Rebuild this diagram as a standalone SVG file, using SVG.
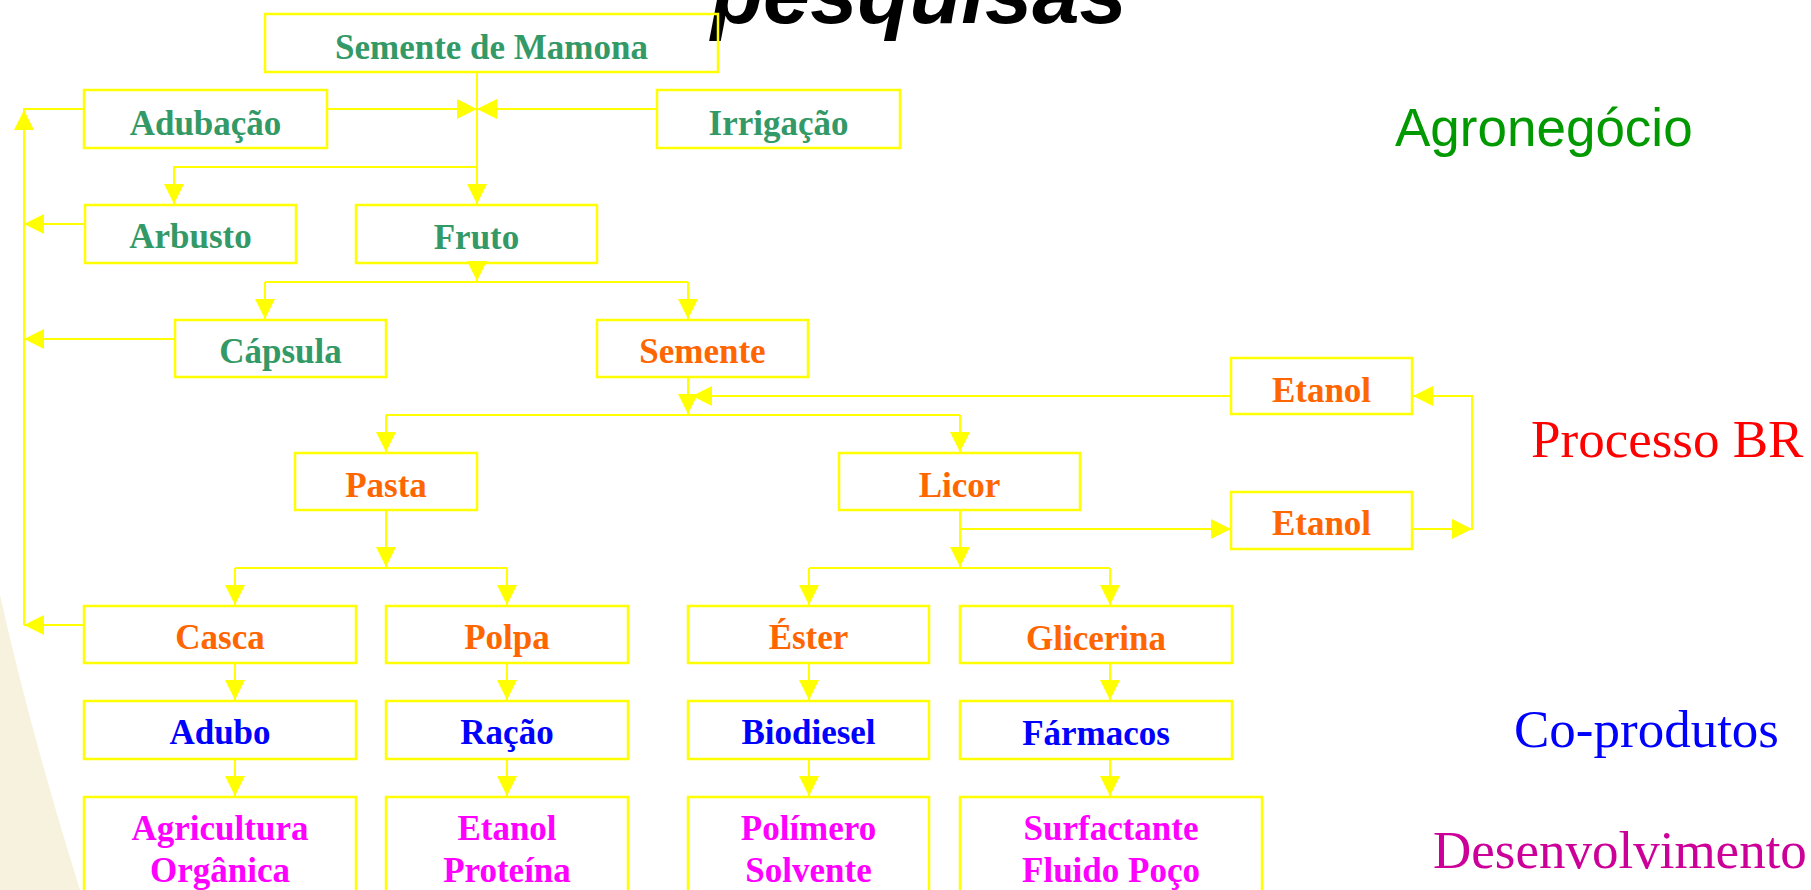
<svg xmlns="http://www.w3.org/2000/svg" xmlns:xlink="http://www.w3.org/1999/xlink" width="1811" height="890" viewBox="0 0 1811 890">
<style>
.bx{fill:none;stroke:#FFFF00;stroke-width:2.5}
.cn{fill:none;stroke:#FFFF00;stroke-width:2}
.ah{fill:#FFFF00}
.t{font-family:"Liberation Serif","Times New Roman",serif;font-weight:bold;font-size:35px;text-anchor:middle}
.g{fill:#339966}.o{fill:#FF6600}.b{fill:#0000FF}.m{fill:#FF00FF}
.side{font-family:"Liberation Serif","Times New Roman",serif;font-size:53px}
</style>
<defs>
<path id="ad" d="M-10,-20 L10,-20 L0,0 Z"/>
<path id="au" d="M-10,20 L10,20 L0,0 Z"/>
<path id="al" d="M20,-10 L20,10 L0,0 Z"/>
<path id="ar" d="M-20,-10 L-20,10 L0,0 Z"/>
</defs>
<rect width="1811" height="890" fill="#FFFFFF"/>
<path d="M0,595 Q30,730 80,890 L0,890 Z" fill="#F6F2DE"/>
<text x="711" y="23" font-family="Liberation Sans,Arial,sans-serif" font-weight="bold" font-style="italic" font-size="85" fill="#000000">pesquisas</text>

<g id="connectors">
<path class="cn" d="M477,72 V204 M327,109 H477 M657,109 H477 M477,167 H174 V204"/>
<path class="cn" d="M84,109 H24 V625 M85,224 H24 M175,339 H24 M84,625 H24"/>
<path class="cn" d="M477,263 V282 M265,282 H688 M265,282 V319 M688,282 V319"/>
<path class="cn" d="M688,377 V415 M386,415 H960 M386,415 V452 M960,415 V452 M1231,396 H692"/>
<path class="cn" d="M1412,529 H1472 V396 H1413"/>
<path class="cn" d="M960,510 V568 M960,529 H1231 M809,568 H1110 M809,568 V605 M1110,568 V605"/>
<path class="cn" d="M386,510 V568 M235,568 H507 M235,568 V605 M507,568 V605"/>
<path class="cn" d="M235,663 V700 M507,663 V700 M809,663 V700 M1110,663 V700 M235,759 V796 M507,759 V796 M809,759 V796 M1110,759 V796"/>
<g class="ah">
<use xlink:href="#ad" x="477" y="204"/>
<use xlink:href="#ar" x="477" y="109"/>
<use xlink:href="#al" x="477" y="109"/>
<use xlink:href="#ad" x="174" y="204"/>
<use xlink:href="#au" x="24" y="110"/>
<use xlink:href="#al" x="24" y="224"/>
<use xlink:href="#al" x="24" y="339"/>
<use xlink:href="#al" x="24" y="625"/>
<use xlink:href="#ad" x="477" y="281"/>
<use xlink:href="#ad" x="265" y="319"/>
<use xlink:href="#ad" x="688" y="319"/>
<use xlink:href="#ad" x="688" y="414"/>
<use xlink:href="#al" x="692" y="396"/>
<use xlink:href="#ad" x="386" y="452"/>
<use xlink:href="#ad" x="960" y="452"/>
<use xlink:href="#ar" x="1472" y="529"/>
<use xlink:href="#al" x="1413" y="396"/>
<use xlink:href="#ar" x="1231" y="529"/>
<use xlink:href="#ad" x="960" y="567"/>
<use xlink:href="#ad" x="386" y="567"/>
<use xlink:href="#ad" x="235" y="605"/>
<use xlink:href="#ad" x="507" y="605"/>
<use xlink:href="#ad" x="809" y="605"/>
<use xlink:href="#ad" x="1110" y="605"/>
<use xlink:href="#ad" x="235" y="700"/>
<use xlink:href="#ad" x="507" y="700"/>
<use xlink:href="#ad" x="809" y="700"/>
<use xlink:href="#ad" x="1110" y="700"/>
<use xlink:href="#ad" x="235" y="796"/>
<use xlink:href="#ad" x="507" y="796"/>
<use xlink:href="#ad" x="809" y="796"/>
<use xlink:href="#ad" x="1110" y="796"/>
</g>
</g>

<g id="n-mamona"><rect class="bx" x="265" y="14" width="453" height="58"/><text class="t g" x="491.5" y="59">Semente de Mamona</text></g>
<g id="n-adubacao"><rect class="bx" x="84" y="90" width="243" height="58"/><text class="t g" x="205.5" y="135">Adubação</text></g>
<g id="n-irrigacao"><rect class="bx" x="657" y="90" width="243" height="58"/><text class="t g" x="778.5" y="135">Irrigação</text></g>
<g id="n-arbusto"><rect class="bx" x="85" y="205" width="211" height="58"/><text class="t g" x="190.5" y="248">Arbusto</text></g>
<g id="n-fruto"><rect class="bx" x="356" y="205" width="241" height="58"/><text class="t g" x="476.5" y="249">Fruto</text></g>
<g id="n-capsula"><rect class="bx" x="175" y="320" width="211" height="57"/><text class="t g" x="280.5" y="363">Cápsula</text></g>
<g id="n-semente"><rect class="bx" x="597" y="320" width="211" height="57"/><text class="t o" x="702.5" y="363">Semente</text></g>
<g id="n-etanol1"><rect class="bx" x="1231" y="358" width="181" height="56"/><text class="t o" x="1321.5" y="402">Etanol</text></g>
<g id="n-pasta"><rect class="bx" x="295" y="453" width="182" height="57"/><text class="t o" x="386" y="497">Pasta</text></g>
<g id="n-licor"><rect class="bx" x="839" y="453" width="241" height="57"/><text class="t o" x="959.5" y="497">Licor</text></g>
<g id="n-etanol2"><rect class="bx" x="1231" y="492" width="181" height="57"/><text class="t o" x="1321.5" y="535">Etanol</text></g>
<g id="n-casca"><rect class="bx" x="84" y="606" width="272" height="57"/><text class="t o" x="220" y="649">Casca</text></g>
<g id="n-polpa"><rect class="bx" x="386" y="606" width="242" height="57"/><text class="t o" x="507" y="649">Polpa</text></g>
<g id="n-ester"><rect class="bx" x="688" y="606" width="241" height="57"/><text class="t o" x="808.5" y="649">Éster</text></g>
<g id="n-glicerina"><rect class="bx" x="960" y="606" width="272" height="57"/><text class="t o" x="1096" y="650">Glicerina</text></g>
<g id="n-adubo"><rect class="bx" x="84" y="701" width="272" height="58"/><text class="t b" x="220" y="744">Adubo</text></g>
<g id="n-racao"><rect class="bx" x="386" y="701" width="242" height="58"/><text class="t b" x="507" y="744">Ração</text></g>
<g id="n-biodiesel"><rect class="bx" x="688" y="701" width="241" height="58"/><text class="t b" x="808.5" y="744">Biodiesel</text></g>
<g id="n-farmacos"><rect class="bx" x="960" y="701" width="272" height="58"/><text class="t b" x="1096" y="745">Fármacos</text></g>
<g id="n-agricultura"><rect class="bx" x="84" y="797" width="272" height="110"/><text class="t m" x="220" y="840">Agricultura</text><text class="t m" x="220" y="882">Orgânica</text></g>
<g id="n-etanolproteina"><rect class="bx" x="386" y="797" width="242" height="110"/><text class="t m" x="507" y="840">Etanol</text><text class="t m" x="507" y="882">Proteína</text></g>
<g id="n-polimero"><rect class="bx" x="688" y="797" width="241" height="110"/><text class="t m" x="808.5" y="840">Polímero</text><text class="t m" x="808.5" y="882">Solvente</text></g>
<g id="n-surfactante"><rect class="bx" x="960" y="797" width="302" height="110"/><text class="t m" x="1111" y="840">Surfactante</text><text class="t m" x="1111" y="882">Fluido Poço</text></g>

<g id="labels">
<text x="1395" y="146" font-family="Liberation Sans,Arial,sans-serif" font-size="53" fill="#009900">Agronegócio</text>
<text class="side" x="1531" y="457" fill="#FF0000">Processo BR</text>
<text class="side" x="1514" y="747" fill="#0000FF">Co-produtos</text>
<text class="side" x="1433" y="868" fill="#CC0099">Desenvolvimento</text>
</g>
</svg>
